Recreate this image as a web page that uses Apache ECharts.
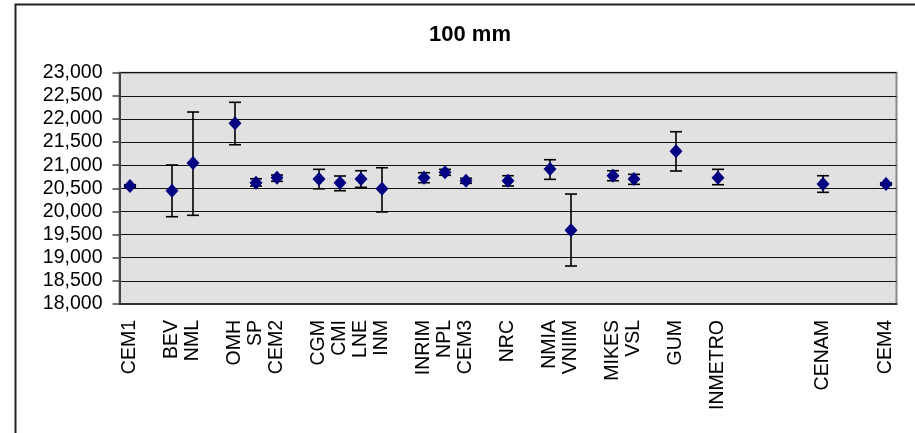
<!DOCTYPE html>
<html>
<head>
<meta charset="utf-8">
<script src="https://cdn.jsdelivr.net/npm/echarts@6/dist/echarts.min.js"></script>
<style>
html,body{margin:0;padding:0;background:#fff;}
#chart{width:915px;height:433px;}
</style>
</head>
<body>
<div id="chart"></div>
<script>
const categories = ['CEM1','','BEV','NML','','OMH','SP','CEM2','','CGM','CMI','LNE','INM','','INRIM','NPL','CEM3','','NRC','','NMIA','VNIIM','','MIKES','VSL','','GUM','','INMETRO','','','','','CENAM','','','CEM4'];
const values =   [20551,null,20449,21048,null,21906,20622,20730,null,20702,20622,20702,20490,null,20730,20847,20665,null,20665,null,20918,19593,null,20773,20702,null,21301,null,20730,null,null,null,null,20594,null,null,20594];
const errLow =   [20525,null,19887,19917,null,21443,20551,20652,null,20490,20449,20522,19990,null,20622,20782,20609,null,20551,null,20695,18821,null,20665,20587,null,20875,null,20579,null,null,null,null,20414,null,null,20570];
const errHigh =  [20578,null,21005,22150,null,22360,20708,20788,null,20911,20767,20881,20946,null,20838,20911,20717,null,20773,null,21119,20377,null,20881,20803,null,21724,null,20911,null,null,null,null,20773,null,null,20618];
const yMin = 18000, yMax = 23000, yStep = 500;
const titleText = '100 mm';

const font = 'Liberation Sans, Arial, sans-serif';
const pointData = values.map((v, i) => v == null ? [i, '-'] : [i, v]);
const errData = [];
values.forEach((v, i) => { if (v != null) errData.push([i, errLow[i], errHigh[i]]); });

const chart = echarts.init(document.getElementById('chart'));
chart.setOption({
  animation: false,
  backgroundColor: '#fff',
  graphic: [{
    type: 'rect', silent: true, z: -10,
    shape: { x: 15.5, y: 4.5, width: 1000, height: 1000 },
    style: { fill: 'none', stroke: '#222', lineWidth: 2 }
  }],
  title: {
    text: titleText, left: 424, top: 19,
    textStyle: { fontFamily: font, fontWeight: 'bold', fontSize: 22, color: '#000' }
  },
  grid: {
    left: 119.5, right: 18.5, top: 72.7, bottom: 129,
    show: true, backgroundColor: '#e1e1e1', borderColor: '#8a8a8a', borderWidth: 2
  },
  xAxis: {
    type: 'category', data: categories, boundaryGap: true,
    axisLine: { lineStyle: { color: '#333', width: 2 } },
    axisTick: { interval: 0, length: 7, lineStyle: { color: '#333', width: 2 } },
    axisLabel: { interval: 0, rotate: 90, margin: 16, fontFamily: font, fontSize: 19.5, color: '#000' },
    splitLine: { show: false }
  },
  yAxis: {
    type: 'value', min: yMin, max: yMax, interval: yStep,
    axisLine: { show: true, lineStyle: { color: '#444', width: 2 } },
    axisTick: { show: true, length: 7, lineStyle: { color: '#444', width: 1.5 } },
    axisLabel: { margin: 17, fontFamily: font, fontSize: 19.5, color: '#000',
      formatter: v => v.toLocaleString('en-US') },
    splitLine: { show: true, lineStyle: { color: '#111', width: 1 } }
  },
  series: [
    {
      type: 'custom', z: 3,
      data: errData,
      renderItem: function (params, api) {
        const x = api.value(0);
        const lo = api.coord([x, api.value(1)]);
        const hi = api.coord([x, api.value(2)]);
        const cap = 6;
        const st = { stroke: '#000', lineWidth: 1.6 };
        return {
          type: 'group',
          children: [
            { type: 'line', shape: { x1: lo[0], y1: lo[1], x2: hi[0], y2: hi[1] }, style: st },
            { type: 'line', shape: { x1: lo[0] - cap, y1: lo[1], x2: lo[0] + cap, y2: lo[1] }, style: st },
            { type: 'line', shape: { x1: hi[0] - cap, y1: hi[1], x2: hi[0] + cap, y2: hi[1] }, style: st }
          ]
        };
      }
    },
    {
      type: 'scatter', z: 4,
      symbol: 'diamond', symbolSize: [13, 14],
      itemStyle: { color: '#000080', opacity: 1 },
      data: pointData
    }
  ]
});
</script>
</body>
</html>
